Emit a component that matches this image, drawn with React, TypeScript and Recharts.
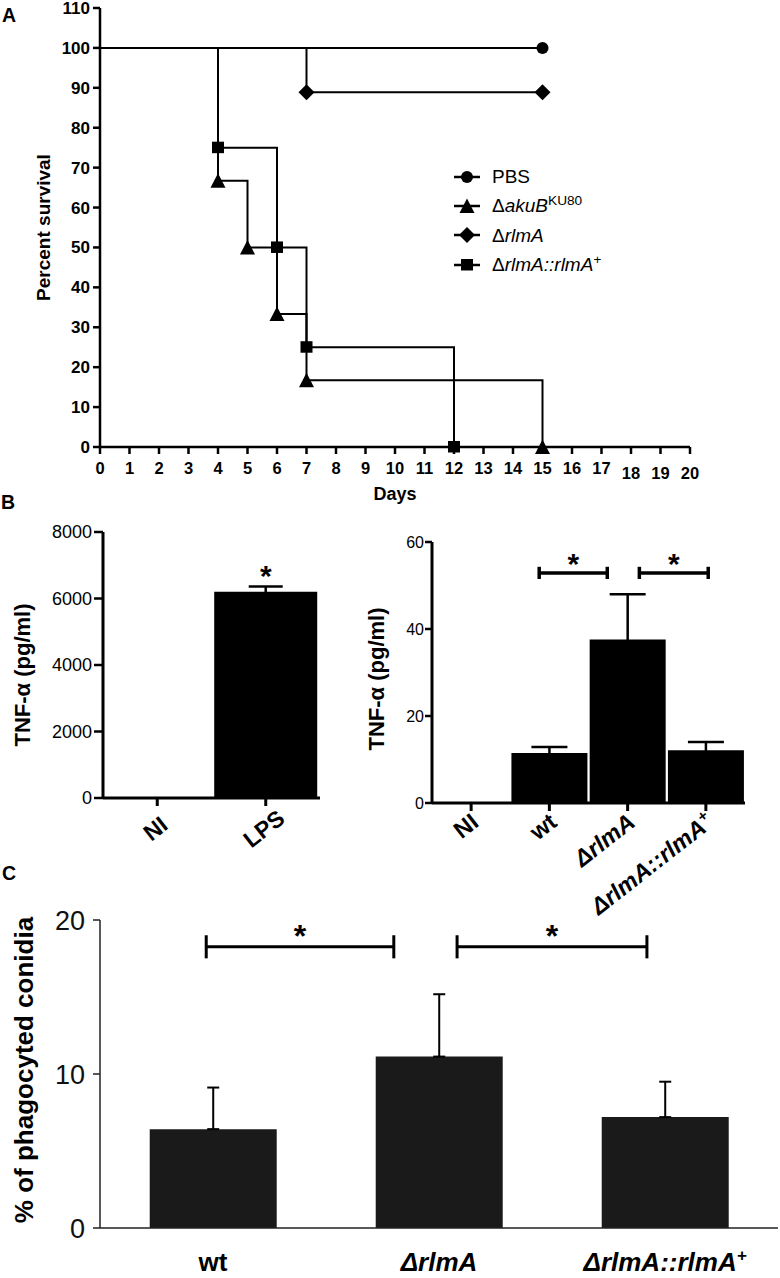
import React from "react";
import {
  Bar,
  BarChart,
  ErrorBar,
  Label,
  Legend,
  Line,
  LineChart,
  ReferenceDot,
  ReferenceLine,
  XAxis,
  YAxis,
} from "recharts";

const FONT = '"Liberation Sans", Arial, Helvetica, sans-serif';
const NARROW = '"Liberation Sans Narrow", "Liberation Sans", Arial, sans-serif';
const INK = "#000";

// A — survival: day of each step and percent alive after it
const dayTicks = [0, 1, 2, 3, 4, 5, 6, 7, 8, 9, 10, 11, 12, 13, 14, 15, 16, 17, 18, 19, 20];
const survivalTicks = [0, 10, 20, 30, 40, 50, 60, 70, 80, 90, 100, 110];
const pbsDays = [0, 15];
const pbsSurvival = [100, 100];
const akuBDays = [0, 4, 5, 6, 7, 15];
const akuBSurvival = [100, 66.7, 50, 33.3, 16.7, 0];
const rlmADays = [0, 7, 15];
const rlmASurvival = [100, 88.9, 88.9];
const complementedDays = [0, 4, 6, 7, 12];
const complementedSurvival = [100, 75, 50, 25, 0];

// B — TNF-α release
const lpsGroups = ["NI", "LPS"];
const lpsTnf = [0, 6200];
const lpsTnfSem = [0, 160];
const lpsTicks = [0, 2000, 4000, 6000, 8000];
const lpsStarValue = 6700;

const strainGroups = ["NI", "wt", "ΔrlmA", "ΔrlmA::rlmA+"];
const strainTnf = [0, 11.5, 37.6, 12.1];
const strainTnfSem = [0, 1.4, 10.4, 1.9];
const strainTicks = [0, 20, 40, 60];
// significance brackets, in category-position units (0 = left edge of axis)
const strainBrackets = [
  [1.37, 2.24],
  [2.65, 3.53],
];
const strainBracketValue = 52.9;

// C — phagocytosis
const phagoGroups = ["wt", "ΔrlmA", "ΔrlmA::rlmA+"];
const phagoPercent = [6.42, 11.13, 7.2];
const phagoSem = [2.7, 4.05, 2.3];
const phagoTicks = [0, 10, 20];
const phagoBrackets = [
  [0.47, 1.3],
  [1.58, 2.42],
];
const phagoBracketValue = 18.26;

type Shape = "circle" | "triangle" | "diamond" | "square";

const toSteps = (days: number[], pct: number[]) => days.map((day, i) => ({ day, pct: pct[i] }));

const survivalSeries: { name: string; shape: Shape; data: { day: number; pct: number }[] }[] = [
  { name: "PBS", shape: "circle", data: toSteps(pbsDays, pbsSurvival) },
  { name: "ΔakuB", shape: "triangle", data: toSteps(akuBDays, akuBSurvival) },
  { name: "ΔrlmA", shape: "diamond", data: toSteps(rlmADays, rlmASurvival) },
  { name: "ΔrlmA::rlmA+", shape: "square", data: toSteps(complementedDays, complementedSurvival) },
];

// slot = centre of each category on a 0..n numeric scale (used to place brackets)
const lpsRows = lpsGroups.map((group, i) => ({ group, slot: i + 0.5, tnf: lpsTnf[i], sem: lpsTnfSem[i] }));
const strainRows = strainGroups.map((group, i) => ({ group, slot: i + 0.5, tnf: strainTnf[i], sem: strainTnfSem[i] }));
// upward-only error (the bars are not pure black, so a lower whisker would show)
const phagoRows = phagoGroups.map((group, i) => ({ group, slot: i + 0.5, pct: phagoPercent[i], sem: [0, phagoSem[i]] }));

function Marker({ shape, cx, cy }: { shape: Shape; cx: number; cy: number }) {
  if (shape === "circle") return <circle cx={cx} cy={cy} r={6} fill={INK} />;
  if (shape === "triangle")
    return <polygon points={`${cx},${cy - 7.5} ${cx + 7.5},${cy + 7} ${cx - 7.5},${cy + 7}`} fill={INK} />;
  if (shape === "square") return <rect x={cx - 6} y={cy - 6} width={12} height={11.5} fill={INK} />;
  return <polygon points={`${cx},${cy - 8} ${cx + 8},${cy} ${cx},${cy + 8} ${cx - 8},${cy}`} fill={INK} />;
}

// no marker on the day-0 starting point
const stepDot = (shape: Shape, name: string) => (p: any) =>
  p.index === 0 ? (
    <g key={`${name}-${p.index}`} />
  ) : (
    <g key={`${name}-${p.index}`}>
      <Marker shape={shape} cx={p.cx} cy={p.cy} />
    </g>
  );

function HtmlName({ name }: { name: string }) {
  const sup = { fontSize: "0.72em", verticalAlign: "0.5em", lineHeight: 0 } as const;
  if (name === "ΔakuB")
    return (
      <>
        Δ<i>akuB</i>
        <sup style={sup}>KU80</sup>
      </>
    );
  if (name === "ΔrlmA")
    return (
      <>
        Δ<i>rlmA</i>
      </>
    );
  if (name === "ΔrlmA::rlmA+")
    return (
      <>
        Δ<i>rlmA::rlmA</i>
        <sup style={{ ...sup, fontStyle: "italic" }}>+</sup>
      </>
    );
  return <>{name}</>;
}

function SvgName({ name, size }: { name: string; size: number }) {
  if (name === "ΔrlmA") return <tspan fontStyle="italic">ΔrlmA</tspan>;
  if (name === "ΔrlmA::rlmA+")
    return (
      <>
        <tspan fontStyle="italic">ΔrlmA::rlmA</tspan>
        <tspan fontStyle="italic" fontSize={size * 0.65} dy={-size * 0.4}>
          +
        </tspan>
      </>
    );
  return <>{name}</>;
}

function SurvivalLegend({ payload }: any) {
  return (
    <div style={{ fontFamily: FONT, fontSize: 19, color: INK }}>
      {(payload || []).map((entry: any) => {
        const series = survivalSeries.find((s) => s.name === entry.value);
        return (
          <div key={entry.value} style={{ display: "flex", alignItems: "center", height: 29.3, whiteSpace: "nowrap" }}>
            <svg width={30} height={18} style={{ flex: "none" }}>
              <line x1={2} y1={9} x2={28} y2={9} stroke={INK} strokeWidth={2.5} />
              {series && <Marker shape={series.shape} cx={15} cy={9} />}
            </svg>
            <span style={{ marginLeft: 10, lineHeight: 1 }}>
              <HtmlName name={entry.value} />
            </span>
          </div>
        );
      })}
    </div>
  );
}

function DayTick({ x, y, payload }: any) {
  const drop = payload.value >= 18 ? 5 : 0;
  return (
    <text x={x} y={y + drop} dy="0.71em" textAnchor="middle" fontFamily={FONT} fontSize={16.5} fontWeight={700} fill={INK}>
      {payload.value}
    </text>
  );
}

function AngledTick({ x, y, payload, anchorAt, shiftX, shiftY, fontPx, tiltDeg }: any) {
  return (
    <g transform={`translate(${x + shiftX},${y + shiftY})`}>
      <text transform={`rotate(${tiltDeg})`} textAnchor={anchorAt} fontFamily={FONT} fontSize={fontPx} fontWeight={700} fill={INK}>
        <SvgName name={payload.value} size={fontPx} />
      </text>
    </g>
  );
}

function FlatTick({ x, y, payload, shiftY, fontPx }: any) {
  return (
    <text x={x} y={y + shiftY} textAnchor="middle" fontFamily={FONT} fontSize={fontPx} fontWeight={700} fill={INK}>
      <SvgName name={payload.value} size={fontPx} />
    </text>
  );
}

const sideTitle = (text: string, x: number, shift: number, size: number) =>
  function SideTitle(props: any) {
    const vb = props.viewBox;
    const cy = vb.y + vb.height / 2 + shift;
    return (
      <text
        x={x}
        y={cy}
        transform={`rotate(-90 ${x} ${cy})`}
        textAnchor="middle"
        dominantBaseline="central"
        fontFamily={FONT}
        fontSize={size}
        fontWeight={700}
        fill={INK}
      >
        {text}
      </text>
    );
  };

function brackets(id: string, spans: number[][], y: number, cap: number, width: number, starSize: number, starOffset: number) {
  return spans.flatMap(([a, b], i) => [
    <ReferenceLine
      key={`${id}-h${i}`}
      xAxisId="pos"
      segment={[
        { x: a, y },
        { x: b, y },
      ]}
      stroke={INK}
      strokeWidth={width}
      ifOverflow="visible"
      label={{ value: "*", position: "top", offset: starOffset, fill: INK, fontSize: starSize, fontWeight: 700, fontFamily: FONT }}
    />,
    <ReferenceLine
      key={`${id}-l${i}`}
      xAxisId="pos"
      segment={[
        { x: a, y: y - cap },
        { x: a, y: y + cap },
      ]}
      stroke={INK}
      strokeWidth={width}
      ifOverflow="visible"
    />,
    <ReferenceLine
      key={`${id}-r${i}`}
      xAxisId="pos"
      segment={[
        { x: b, y: y - cap },
        { x: b, y: y + cap },
      ]}
      stroke={INK}
      strokeWidth={width}
      ifOverflow="visible"
    />,
  ]);
}

export default function App() {
  const heavyAxis = { stroke: INK, strokeWidth: 3 };
  return (
    <div style={{ position: "absolute", left: 0, top: 0, width: 780, height: 1278, background: "#fff", overflow: "hidden" }}>
      <svg width={780} height={1278} style={{ position: "absolute", left: 0, top: 0 }}>
        <g fontFamily={FONT} fontSize={19.5} fontWeight={700} fill={INK}>
          <text x={2} y={22}>A</text>
          <text x={1} y={509}>B</text>
          <text x={2} y={880}>C</text>
        </g>
      </svg>

      {/* C (drawn first so the rotated labels of B stay on top) */}
      <div style={{ position: "absolute", left: 0, top: 895 }}>
        <BarChart width={780} height={383} data={phagoRows} margin={{ top: 25, right: 2, bottom: 0, left: 0 }} barCategoryGap="22%">
          <XAxis
            dataKey="group"
            interval={0}
            height={50}
            tickLine={false}
            tickSize={0}
            tickMargin={0}
            axisLine={{ stroke: "#222", strokeWidth: 1.5 }}
            tick={<FlatTick shiftY={43} fontPx={26} />}
          />
          <XAxis xAxisId="pos" dataKey="slot" type="number" domain={[0, phagoGroups.length]} hide allowDataOverflow />
          <YAxis
            domain={[0, 20]}
            ticks={phagoTicks}
            interval={0}
            width={100}
            tickSize={7}
            tickMargin={8}
            axisLine={{ stroke: "#222", strokeWidth: 1.5 }}
            tickLine={{ stroke: "#222", strokeWidth: 1.5 }}
            tick={{ fontFamily: FONT, fontSize: 27, fill: "#111" }}
          >
            <Label content={sideTitle("% of phagocyted conidia", 24, -4, 26)} />
          </YAxis>
          <Bar dataKey="pct" fill="#1a1a1a" isAnimationActive={false}>
            <ErrorBar dataKey="sem" width={6} strokeWidth={2} stroke={INK} />
          </Bar>
          {brackets("phago", phagoBrackets, phagoBracketValue, 0.75, 3, 32, 0)}
        </BarChart>
      </div>

      {/* A */}
      <div style={{ position: "absolute", left: 0, top: 0 }}>
        <LineChart width={780} height={510} margin={{ top: 8, right: 90, bottom: 0, left: 0 }}>
          <XAxis
            dataKey="day"
            type="number"
            domain={[0, 20]}
            ticks={dayTicks}
            interval={0}
            height={63}
            tickSize={7}
            tickMargin={8}
            axisLine={{ stroke: INK, strokeWidth: 2.5 }}
            tickLine={{ stroke: INK, strokeWidth: 2.5 }}
            tick={<DayTick />}
          >
            <Label value="Days" position="insideBottom" offset={10} style={{ fontFamily: FONT, fontSize: 18, fontWeight: 700, fill: INK }} />
          </XAxis>
          <YAxis
            type="number"
            domain={[0, 110]}
            ticks={survivalTicks}
            interval={0}
            width={100}
            tickSize={7}
            tickMargin={3}
            axisLine={{ stroke: INK, strokeWidth: 2.5 }}
            tickLine={{ stroke: INK, strokeWidth: 2.5 }}
            tick={{ fontFamily: FONT, fontSize: 17, fontWeight: 700, fill: INK }}
          >
            <Label content={sideTitle("Percent survival", 43, 0, 19)} />
          </YAxis>
          <Legend
            layout="vertical"
            align="center"
            verticalAlign="middle"
            wrapperStyle={{ left: 452, top: 162, width: 260 }}
            content={<SurvivalLegend />}
          />
          {survivalSeries.map((s) => (
            <Line
              key={s.name}
              name={s.name}
              data={s.data}
              dataKey="pct"
              type="stepAfter"
              stroke={INK}
              strokeWidth={2}
              dot={stepDot(s.shape, s.name)}
              activeDot={false}
              isAnimationActive={false}
            />
          ))}
        </LineChart>
      </div>

      {/* B left */}
      <div style={{ position: "absolute", left: 0, top: 515 }}>
        <BarChart width={340} height={360} data={lpsRows} margin={{ top: 17, right: 20, bottom: 0, left: 0 }} barCategoryGap="2.5%">
          <XAxis
            dataKey="group"
            interval={0}
            height={77}
            tickSize={8}
            tickMargin={0}
            axisLine={heavyAxis}
            tickLine={heavyAxis}
            tick={<AngledTick anchorAt="middle" shiftX={3} shiftY={29} fontPx={23} tiltDeg={-38} />}
          />
          <YAxis
            domain={[0, 8000]}
            ticks={lpsTicks}
            interval={0}
            width={103}
            tickSize={9}
            tickMargin={2}
            axisLine={heavyAxis}
            tickLine={{ stroke: INK, strokeWidth: 2.5 }}
            tick={{ fontFamily: FONT, fontSize: 18, fill: INK }}
          >
            <Label content={sideTitle("TNF-α (pg/ml)", 22, 10, 22)} />
          </YAxis>
          <Bar dataKey="tnf" fill={INK} isAnimationActive={false}>
            <ErrorBar dataKey="sem" width={17} strokeWidth={2.5} stroke={INK} />
          </Bar>
          <ReferenceDot
            x="LPS"
            y={lpsStarValue}
            r={0}
            fill="none"
            stroke="none"
            label={{ value: "*", position: "center", fill: INK, fontSize: 30, fontWeight: 700, fontFamily: FONT }}
          />
        </BarChart>
      </div>

      {/* B right (extra bottom room so the long rotated label is never clipped) */}
      <div style={{ position: "absolute", left: 360, top: 520 }}>
        <BarChart width={400} height={440} data={strainRows} margin={{ top: 22, right: 15, bottom: 0, left: 0 }} barCategoryGap="1.5%">
          <XAxis
            dataKey="group"
            interval={0}
            height={157}
            tickSize={8}
            tickMargin={0}
            axisLine={heavyAxis}
            tickLine={heavyAxis}
            tick={<AngledTick anchorAt="end" shiftX={9} shiftY={14} fontPx={23.5} tiltDeg={-38} />}
          />
          <XAxis xAxisId="pos" dataKey="slot" type="number" domain={[0, strainGroups.length]} hide allowDataOverflow />
          <YAxis
            domain={[0, 60]}
            ticks={strainTicks}
            interval={0}
            width={72}
            tickSize={7}
            tickMargin={1}
            axisLine={heavyAxis}
            tickLine={{ stroke: INK, strokeWidth: 2.5 }}
            tick={{ fontFamily: NARROW, fontSize: 16, fill: INK }}
          >
            <Label content={sideTitle("TNF-α (pg/ml)", 16, 6.5, 22)} />
          </YAxis>
          <Bar dataKey="tnf" fill={INK} isAnimationActive={false}>
            <ErrorBar dataKey="sem" width={18} strokeWidth={2.5} stroke={INK} />
          </Bar>
          {brackets("tnf", strainBrackets, strainBracketValue, 1.4, 3.5, 30, -1)}
        </BarChart>
      </div>
    </div>
  );
}
